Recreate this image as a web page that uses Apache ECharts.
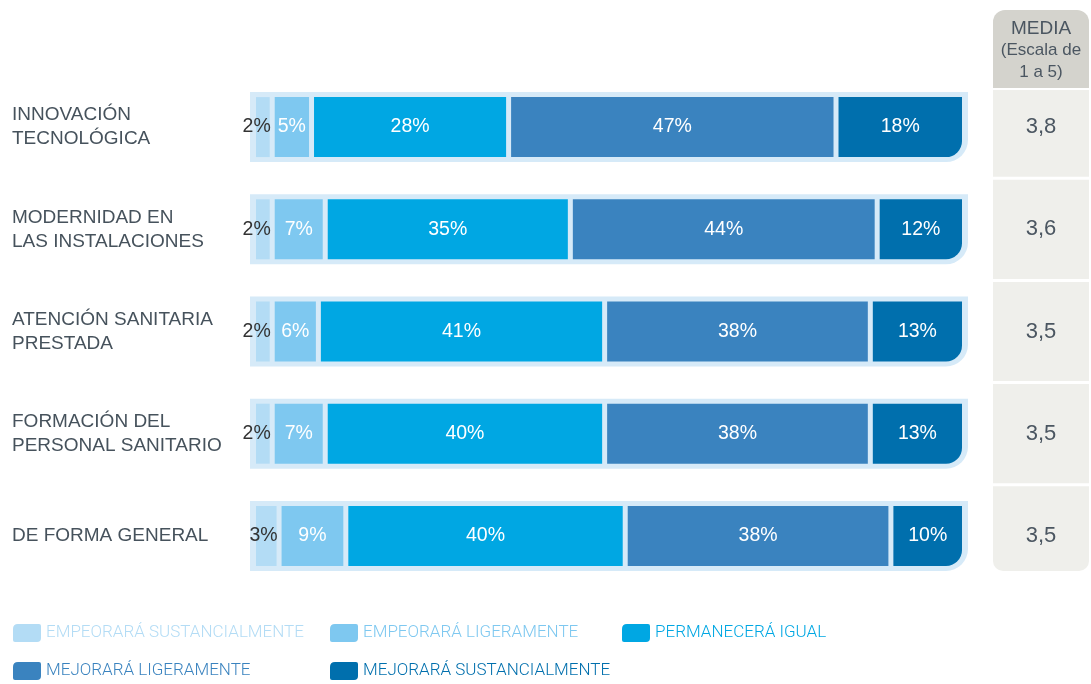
<!DOCTYPE html>
<html>
<head>
<meta charset="utf-8">
<script src="https://cdn.jsdelivr.net/npm/echarts@6/dist/echarts.min.js"></script>
<style>
  html, body { margin: 0; padding: 0; background: #ffffff; }
  #chart { width: 1091px; height: 684px; }
</style>
</head>
<body>
<div id="chart"></div>
<script>
// Survey: expected evolution of each aspect (percent of answers per option)
const categories = [
  'INNOVACIÓN\nTECNOLÓGICA',
  'MODERNIDAD EN\nLAS INSTALACIONES',
  'ATENCIÓN SANITARIA\nPRESTADA',
  'FORMACIÓN DEL\nPERSONAL SANITARIO',
  'DE FORMA GENERAL'
];
const seriesNames = [
  'EMPEORARÁ SUSTANCIALMENTE',
  'EMPEORARÁ LIGERAMENTE',
  'PERMANECERÁ IGUAL',
  'MEJORARÁ LIGERAMENTE',
  'MEJORARÁ SUSTANCIALMENTE'
];
const empeoraSust = [2, 2, 2, 2, 3];
const empeoraLig = [5, 7, 6, 7, 9];
const permanece = [28, 35, 41, 40, 40];
const mejoraLig = [47, 44, 38, 38, 38];
const mejoraSust = [18, 12, 13, 13, 10];
// Mean score on a 1 to 5 scale
const media = [3.8, 3.6, 3.5, 3.5, 3.5];

const seriesValues = [empeoraSust, empeoraLig, permanece, mejoraLig, mejoraSust];
const colors = ['#b3dcf5', '#7ec8f0', '#00a7e3', '#3a83bf', '#006fad'];
const trackColor = '#d6eaf8';
const textColor = '#46525c';
const mainFont = '"Liberation Sans", Arial, sans-serif';
const legendFont = 'Roboto, "Open Sans", sans-serif';

const GAP = 5;        // gap between segments, px
const BAR_H = 60;     // segment height, px
const TRACK_PAD = 5;  // track margin around the segments, px

const nSeries = seriesValues.length;
const rowTotals = categories.map((_, i) => seriesValues.reduce((s, arr) => s + arr[i], 0));

const chart = echarts.init(document.getElementById('chart'), null, { renderer: 'canvas' });

const legendIcon = 'path://M5,0L26,0Q28,0 28,2L28,14Q28,18 24,18L2,18Q0,18 0,16L0,5Q0,0 5,0Z';
function legendFor(k, left, top) {
  return {
    left: left,
    top: top,
    padding: 0,
    itemWidth: 28,
    itemHeight: 18,
    icon: legendIcon,
    selectedMode: false,
    textStyle: { fontFamily: legendFont, fontWeight: 300, fontSize: 17, color: colors[k] },
    data: [seriesNames[k]]
  };
}

// one series per answer option; segments sit side by side with a fixed gap
const segmentSeries = seriesNames.map((name, k) => ({
  name: name,
  type: 'custom',
  xAxisIndex: 0,
  yAxisIndex: 0,
  z: 3,
  silent: true,
  itemStyle: { color: colors[k] },
  data: categories.map((_, i) => {
    let before = 0;
    for (let j = 0; j < k; j++) before += seriesValues[j][i];
    return [i, seriesValues[k][i], before];
  }),
  renderItem: function (params, api) {
    const idx = api.value(0);
    const v = api.value(1);
    const before = api.value(2);
    const a = api.coord([before, idx]);
    const b = api.coord([before + v, idx]);
    const x0 = a[0] + k * GAP;
    const x1 = b[0] + k * GAP;
    const cy = a[1];
    const last = k === nSeries - 1;
    const label = k === 0
      ? { text: v + '%', x: x1 + 1, y: cy, align: 'right', fill: '#333333' }
      : { text: v + '%', x: (x0 + x1) / 2, y: cy, align: 'center', fill: '#ffffff' };
    return {
      type: 'group',
      children: [
        {
          type: 'rect',
          shape: { x: x0, y: cy - BAR_H / 2, width: x1 - x0, height: BAR_H, r: last ? [0, 0, 16, 0] : 0 },
          style: { fill: api.visual('color') }
        },
        {
          type: 'text',
          z2: 10,
          style: {
            text: label.text, x: label.x, y: label.y, align: label.align, verticalAlign: 'middle',
            fill: label.fill, font: '19.5px ' + mainFont
          }
        }
      ]
    };
  }
}));

const option = {
  animation: false,
  backgroundColor: '#ffffff',
  color: colors,
  grid: [
    { left: 256, width: 686, top: 76, height: 511, containLabel: false },
    { left: 993, width: 96, top: 76, height: 511, containLabel: false }
  ],
  xAxis: [
    { gridIndex: 0, type: 'value', min: 0, max: 100, show: false },
    { gridIndex: 1, type: 'value', min: 0, max: 1, show: false }
  ],
  yAxis: [
    {
      gridIndex: 0, type: 'category', inverse: true, data: categories,
      axisLine: { show: false }, axisTick: { show: false }, splitLine: { show: false },
      axisLabel: {
        align: 'left', margin: 244, color: textColor,
        fontFamily: mainFont, fontSize: 19, lineHeight: 24
      }
    },
    { gridIndex: 1, type: 'category', inverse: true, data: categories, show: false }
  ],
  legend: [
    legendFor(0, 13, 624),
    legendFor(1, 330, 624),
    legendFor(2, 622, 624),
    legendFor(3, 13, 662),
    legendFor(4, 330, 662)
  ],
  graphic: [
    {
      type: 'rect', left: 993, top: 10, z: 1,
      shape: { width: 96, height: 78, r: [12, 12, 0, 0] },
      style: { fill: '#d4d3cd' }
    },
    {
      type: 'text', x: 1041, y: 29, z: 2,
      style: { text: 'MEDIA', fill: '#4b5661', font: '19px ' + mainFont, align: 'center', verticalAlign: 'middle' }
    },
    {
      type: 'text', x: 1041, y: 50, z: 2,
      style: { text: '(Escala de', fill: '#4b5661', font: '17px ' + mainFont, align: 'center', verticalAlign: 'middle' }
    },
    {
      type: 'text', x: 1041, y: 72, z: 2,
      style: { text: '1 a 5)', fill: '#4b5661', font: '17px ' + mainFont, align: 'center', verticalAlign: 'middle' }
    }
  ],
  series: [
    ...segmentSeries,
    // light-blue track behind each row
    {
      name: 'track',
      type: 'custom',
      xAxisIndex: 0, yAxisIndex: 0, z: 1, silent: true,
      data: categories.map((_, i) => [i, rowTotals[i]]),
      renderItem: function (params, api) {
        const idx = api.value(0);
        const start = api.coord([0, idx]);
        const end = api.coord([api.value(1), idx]);
        const h = BAR_H + 2 * TRACK_PAD;
        const pad = 6;
        return {
          type: 'rect',
          shape: {
            x: start[0] - pad, y: start[1] - h / 2,
            width: end[0] - start[0] + (nSeries - 1) * GAP + 2 * pad, height: h, r: [0, 0, 22, 0]
          },
          style: { fill: trackColor }
        };
      }
    },
    // MEDIA column cells
    {
      name: 'media',
      type: 'custom',
      xAxisIndex: 1, yAxisIndex: 1, z: 1, silent: true,
      data: media.map((v, i) => [0, i, v]),
      renderItem: function (params, api) {
        const idx = api.value(1);
        const c = api.coord([0, idx]);
        const band = api.size([0, 1])[1];
        const cs = params.coordSys;
        const n = media.length;
        let y0 = c[1] - band / 2 + 1.5;
        let y1 = c[1] + band / 2 - 1.5;
        if (idx === 0) y0 = c[1] - 37;
        if (idx === n - 1) y1 = c[1] + 35;
        return {
          type: 'group',
          children: [
            {
              type: 'rect',
              shape: { x: cs.x, y: y0, width: cs.width, height: y1 - y0, r: idx === n - 1 ? [0, 0, 10, 10] : 0 },
              style: { fill: '#efefeb' }
            },
            {
              type: 'text',
              style: {
                text: api.value(2).toFixed(1).replace('.', ','),
                x: cs.x + cs.width / 2,
                y: c[1],
                fill: '#4b5661',
                font: '22px ' + mainFont,
                align: 'center',
                verticalAlign: 'middle'
              }
            }
          ]
        };
      }
    }
  ]
};

chart.setOption(option);
</script>
</body>
</html>
